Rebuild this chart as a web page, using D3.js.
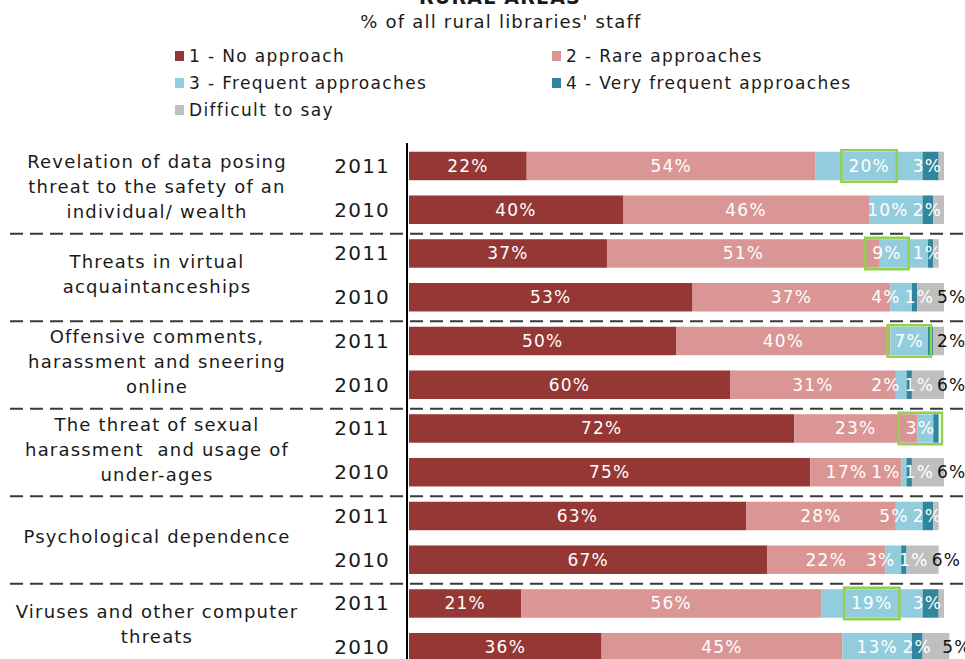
<!DOCTYPE html>
<html><head><meta charset="utf-8">
<script src="https://cdn.jsdelivr.net/npm/d3@7"></script>
<style>
body{margin:0;background:#fff;}
svg{display:block;font-family:"DejaVu Sans",Verdana,sans-serif;}
</style></head><body>
<svg id="chart" width="965" height="659"></svg>
<script>
const title = "RURAL AREAS";
const subtitle = "% of all rural libraries' staff";
const seriesNames = ["1 - No approach","2 - Rare approaches","3 - Frequent approaches","4 - Very frequent approaches","Difficult to say"];
const seriesColors = ["#953735","#D99694","#93CDDD","#31859C","#BFBFBF"];
const categoryLines = [
  ["Revelation of data posing","threat to the safety of an","individual/ wealth"],
  ["Threats in virtual","acquaintanceships"],
  ["Offensive comments,","harassment and sneering","online"],
  ["The threat of sexual","harassment  and usage of","under-ages"],
  ["Psychological dependence"],
  ["Viruses and other computer","threats"]
];
const years = ["2011","2010"];
// one value per bar: category 1 (2011, 2010), category 2 (2011, 2010), ...
const noApproach             = [22,40,37,53,50,60,72,75,63,67,21,36];
const rareApproaches         = [54,46,51,37,40,31,23,17,28,22,56,45];
const frequentApproaches     = [20,10, 9, 4, 7, 2, 3, 1, 5, 3,19,13];
const veryFrequentApproaches = [ 3, 2, 1, 1, 1, 1, 1, 1, 2, 1, 3, 2];
const difficultToSay         = [ 1, 2, 1, 5, 2, 6, 0, 6, 1, 6, 1, 5];
// [bar index, series index]
const hiddenLabels = [[0,4],[1,4],[2,4],[4,3],[6,3],[8,4],[10,4]];
const highlightedLabels = [[0,2],[2,2],[4,2],[6,2],[10,2]];

const seriesValues = [noApproach, rareApproaches, frequentApproaches, veryFrequentApproaches, difficultToSay];
const keys = seriesNames.map((d,i)=>"s"+i);
const table = noApproach.map((v,i)=>{
  const r = {id: String(i)};
  keys.forEach((k,j)=>r[k]=seriesValues[j][i]);
  return r;
});
const stacked = d3.stack().keys(keys)(table);

const svg = d3.select("#chart");
const x = d3.scaleLinear().domain([0,100]).range([409,944]);
const y = d3.scaleBand().domain(table.map(d=>d.id)).range([144.1,669.1]).paddingInner(0.349).paddingOuter(0.1745);
const bw = y.bandwidth();

// title
svg.append("text").attr("x",500).attr("y",4).attr("text-anchor","middle")
  .attr("font-size",19).attr("font-weight","bold").attr("letter-spacing",1.2).attr("fill","#1a1a1a").text(title);
svg.append("text").attr("x",501).attr("y",28).attr("text-anchor","middle")
  .attr("font-size",18).attr("letter-spacing",1.2).attr("fill","#1a1a1a").text(subtitle);

// legend
const legendPos = [[175,62],[552,62],[175,89],[552,89],[175,116]];
const lg = svg.append("g");
seriesNames.forEach((n,i)=>{
  const [lx,ly] = legendPos[i];
  lg.append("rect").attr("x",lx).attr("y",ly-11).attr("width",9).attr("height",10).attr("fill",seriesColors[i]);
  lg.append("text").attr("x",lx+14).attr("y",ly).attr("font-size",17).attr("letter-spacing",1.35)
    .attr("fill","#1a1a1a").text(n);
});

// dividers
for(let g=1; g<categoryLines.length; g++){
  const yy = y(String(g*2)) - 5.5;
  svg.append("line").attr("x1",10).attr("x2",965).attr("y1",yy).attr("y2",yy)
    .attr("stroke","#3a3a3a").attr("stroke-width",2).attr("stroke-dasharray","13,7");
}

// bars
svg.append("g").selectAll("g").data(stacked).join("g")
  .attr("fill",(d,i)=>seriesColors[i])
  .selectAll("rect").data(d=>d).join("rect")
  .attr("x",d=>x(d[0])).attr("y",d=>y(d.data.id))
  .attr("width",d=>x(d[1])-x(d[0])).attr("height",bw);

// axis with year labels
const axis = d3.axisLeft(y).tickSize(0).tickPadding(17).tickFormat(d=>years[+d%2]);
const ag = svg.append("g").attr("transform","translate(407,0)").call(axis);
ag.select(".domain").attr("stroke","#000").attr("stroke-width",2).attr("d",`M0,${143}V659`);
ag.selectAll("text").attr("font-size",20).attr("font-family","DejaVu Sans, Verdana, sans-serif")
  .attr("letter-spacing",1.2).attr("fill","#1a1a1a").attr("dy","0.34em");

// category labels
categoryLines.forEach((lines,g)=>{
  const c = (y(String(2*g)) + y(String(2*g+1)) + bw)/2 + 5.5;
  const n = lines.length;
  lines.forEach((t,k)=>{
    svg.append("text").attr("x",157).attr("y",c + (k-(n-1)/2)*25)
      .attr("text-anchor","middle").attr("font-size",18).attr("letter-spacing",1.2)
      .attr("fill","#1a1a1a").style("white-space","pre").text(t);
  });
});

// data labels
const isHidden = (i,j)=>hiddenLabels.some(h=>h[0]===i&&h[1]===j);
const isHi = (i,j)=>highlightedLabels.some(h=>h[0]===i&&h[1]===j);
const lblG = svg.append("g");
table.forEach((row,i)=>{
  const yc = y(row.id) + bw/2;
  const barEnd = x(stacked[4][i][1]);
  const grayVal = difficultToSay[i];
  let limit = x(100) - 2;
  if(grayVal>0 && !isHidden(i,4)){
    const gx = barEnd - 7;
    lblG.append("text").attr("x",gx).attr("y",yc+6).attr("font-size",17).attr("letter-spacing",1.2)
      .attr("fill","#111").text(grayVal+"%");
    limit = gx - 3;
  }
  const items = [];
  for(let j=0;j<4;j++){
    const v = seriesValues[j][i];
    if(v<=0 || isHidden(i,j)) continue;
    const seg = stacked[j][i];
    const t = lblG.append("text").attr("y",yc+6).attr("font-size",17).attr("letter-spacing",1.2)
      .attr("text-anchor","middle").attr("fill","#fff").text(v+"%");
    const w = t.node().getComputedTextLength();
    const hi = isHi(i,j);
    items.push({t, w, ew: w + (hi?14:0), hi, x:(x(seg[0])+x(seg[1]))/2});
  }
  const gap = 4;
  for(let it=0; it<60; it++){
    for(let k=1;k<items.length;k++){
      const a=items[k-1], b=items[k];
      const ov = (a.x + a.ew/2 + gap) - (b.x - b.ew/2);
      if(ov>0){ a.x -= ov/2; b.x += ov/2; }
    }
    if(items.length){
      const l = items[items.length-1];
      if(l.x + l.ew/2 > limit) l.x = limit - l.ew/2;
    }
  }
  items.forEach(o=>{
    o.t.attr("x",o.x);
    if(o.hi){
      lblG.append("rect").attr("x",o.x - o.w/2 - 7).attr("y",y(row.id)-1.5)
        .attr("width",o.w+14).attr("height",bw+3).attr("fill","none")
        .attr("stroke","#92D050").attr("stroke-width",2.5);
    }
  });
});
</script>
</body></html>
